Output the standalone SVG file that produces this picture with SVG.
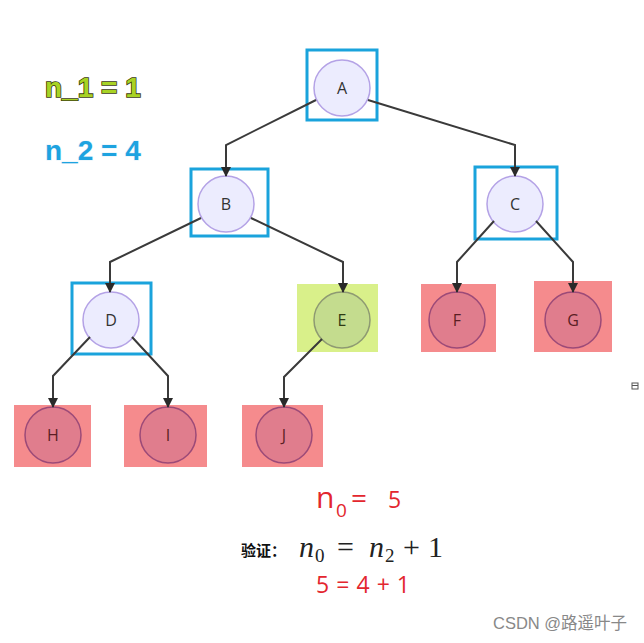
<svg xmlns="http://www.w3.org/2000/svg" width="644" height="643" viewBox="0 0 644 643">
<defs>
<style>
.box{fill:none;stroke:#1aa3dc;stroke-width:3}
.nc{fill:#ececfe;stroke:#b4a2e6;stroke-width:1.5}
.rbox{fill:#f58b8d}
.rc{fill:#e07d8d;stroke:#9c4a78;stroke-width:1.5}
.gbox{fill:#d9f08a}
.gc{fill:#c4dc8e;stroke:#8e9a72;stroke-width:1.5}
.lbl{font-family:"Open Sans","Liberation Sans",sans-serif;font-size:16px;fill:#333;text-anchor:middle}
.rl{fill:#5a1e24}
.gl{fill:#2e3a14}
.edge{fill:none;stroke:#3a3a3a;stroke-width:2}
</style>
<marker id="arr" viewBox="0 0 10 10" refX="9" refY="5" markerWidth="5" markerHeight="5" orient="auto" markerUnits="strokeWidth">
<path d="M0,0 L10,5 L0,10 z" fill="#2a2a2a"/>
</marker>
</defs>
<rect width="644" height="643" fill="#ffffff"/>

<g id="node-A"><circle class="nc" cx="342" cy="88" r="28"/><text class="lbl" x="342" y="94">A</text><rect class="box" x="307" y="50" width="70" height="70"/></g>
<g id="node-B"><circle class="nc" cx="226" cy="204" r="28"/><text class="lbl" x="226" y="210">B</text><rect class="box" x="191" y="169" width="77" height="67"/></g>
<g id="node-C"><circle class="nc" cx="515" cy="204" r="28"/><text class="lbl" x="515" y="210">C</text><rect class="box" x="475" y="167" width="82" height="72"/></g>
<g id="node-D"><circle class="nc" cx="111" cy="320" r="28"/><text class="lbl" x="111" y="326">D</text><rect class="box" x="72" y="283" width="79" height="71"/></g>
<g id="node-E"><rect class="gbox" x="297" y="284" width="81" height="68"/><circle class="gc" cx="342" cy="320" r="28"/><text class="lbl gl" x="342" y="326">E</text></g>
<g id="node-F"><rect class="rbox" x="421" y="284" width="75" height="68"/><circle class="rc" cx="457" cy="320" r="28"/><text class="lbl rl" x="457" y="326">F</text></g>
<g id="node-G"><rect class="rbox" x="534" y="281" width="78" height="71"/><circle class="rc" cx="573" cy="320" r="28"/><text class="lbl rl" x="573" y="326">G</text></g>
<g id="node-H"><rect class="rbox" x="14" y="405" width="77" height="62"/><circle class="rc" cx="53" cy="435" r="28"/><text class="lbl rl" x="53" y="441">H</text></g>
<g id="node-I"><rect class="rbox" x="124" y="405" width="83" height="62"/><circle class="rc" cx="168" cy="435" r="28"/><text class="lbl rl" x="168" y="441">I</text></g>
<g id="node-J"><rect class="rbox" x="242" y="405" width="81" height="62"/><circle class="rc" cx="284" cy="435" r="28"/><text class="lbl rl" x="284" y="441">J</text></g>

<g id="connectors">
<path class="edge" marker-end="url(#arr)" d="M316,100 L226,145 L226,176"/>
<path class="edge" marker-end="url(#arr)" d="M368,100 L515,145 L515,176"/>
<path class="edge" marker-end="url(#arr)" d="M201,218 L110,262 L110,292"/>
<path class="edge" marker-end="url(#arr)" d="M251,218 L343,262 L343,292"/>
<path class="edge" marker-end="url(#arr)" d="M494,221 L457,262 L457,292"/>
<path class="edge" marker-end="url(#arr)" d="M536,221 L573,262 L573,292"/>
<path class="edge" marker-end="url(#arr)" d="M90,337 L53,376 L53,407"/>
<path class="edge" marker-end="url(#arr)" d="M132,337 L168,376 L168,407"/>
<path class="edge" marker-end="url(#arr)" d="M322,339 L284,377 L284,407"/>
</g>

<g id="legend">
<text x="45" y="97" font-family="'Liberation Sans',Arial,sans-serif" font-size="28" font-weight="bold" fill="#a8d324" stroke="#3a3a10" stroke-width="1.6" paint-order="stroke">n_1 = 1</text>
<text x="45" y="160" font-family="'Liberation Sans',Arial,sans-serif" font-size="28" font-weight="bold" fill="#1ea3e0" stroke="#e6f4fb" stroke-width="1" paint-order="stroke">n_2 = 4</text>
</g>

<g id="formula">
<text font-family="'Open Sans','Liberation Sans',sans-serif" font-size="30" fill="#e3262e"><tspan x="316" y="508">n</tspan><tspan x="336" y="517" font-size="19">0</tspan><tspan x="351" y="508" font-size="28">=</tspan><tspan x="388" y="508" font-size="23">5</tspan></text>
<text x="241" y="556" font-family="'Noto Sans CJK SC',sans-serif" font-size="15" font-weight="bold" fill="#111" stroke="#ffffff" stroke-width="0.5" paint-order="stroke">验证：</text>
<text font-family="'Liberation Serif','DejaVu Serif',serif" font-size="30" fill="#222"><tspan x="299" y="557" font-style="italic">n</tspan><tspan x="315" y="562" font-size="19">0</tspan><tspan x="337" y="557">=</tspan><tspan x="369" y="557" font-style="italic">n</tspan><tspan x="385" y="562" font-size="19">2</tspan><tspan x="403" y="557">+</tspan><tspan x="428" y="557">1</tspan></text>
<text x="316" y="593" font-family="'Open Sans','Liberation Sans',sans-serif" font-size="23" fill="#e3262e" textLength="94">5 = 4 + 1</text>
</g>

<g id="icon"><rect x="632" y="383" width="6" height="6" fill="none" stroke="#555" stroke-width="1"/><line x1="632" y1="385.5" x2="638" y2="385.5" stroke="#555" stroke-width="1"/></g>

<text x="493" y="629" font-family="'Liberation Sans','Noto Sans CJK SC',sans-serif" font-size="16.5" fill="#888">CSDN @路遥叶子</text>
</svg>
